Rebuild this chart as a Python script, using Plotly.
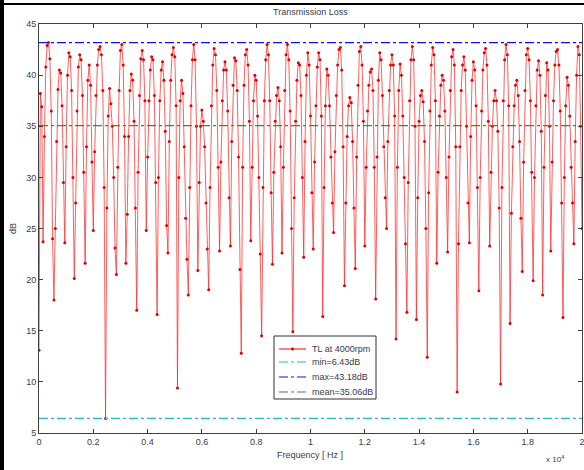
import plotly.graph_objects as go

# ---- data ----
freq_step_hz = 50
tl_db = [
    13.1, 38.2, 36.9, 23.7, 34.0, 40.8, 42.9, 43.18, 41.6, 36.5,
    24.0, 18.0, 25.0, 33.5, 38.6, 40.5, 40.2, 37.0, 29.5, 23.6,
    33.0, 40.0, 42.2, 41.8, 38.5, 30.0, 20.1, 27.5, 36.5, 40.8,
    42.0, 41.5, 38.0, 30.5, 21.6, 33.0, 39.5, 41.0, 39.0, 31.5,
    24.8, 32.5, 38.0, 41.0, 42.5, 42.8, 42.0, 38.5, 29.0, 6.43,
    27.0, 36.0, 38.7, 37.2, 35.0, 30.0, 23.1, 20.5, 31.0, 38.5,
    42.4, 43.0, 41.0, 34.0, 21.6, 26.4, 34.0, 38.5, 40.1, 39.5,
    35.5, 27.0, 17.0, 30.5, 38.0, 41.6, 42.4, 41.5, 37.5, 24.8,
    32.0, 37.5, 40.5, 41.8, 41.5, 38.0, 29.5, 16.6, 30.0, 37.5,
    40.5, 41.3, 39.5, 34.5, 25.3, 22.6, 33.5, 39.5, 42.0, 42.7,
    41.8, 37.0, 9.4, 30.0, 37.5, 39.5, 38.2, 33.0, 26.0, 22.0,
    18.5, 29.0, 37.0, 41.5, 43.0, 41.5, 35.0, 20.9, 29.5, 35.0,
    36.6, 35.5, 33.0, 27.5, 23.0, 19.0, 29.0, 37.0, 41.0, 42.6,
    42.0, 38.5, 31.0, 22.8, 31.5, 37.5, 40.5, 41.3, 40.5, 36.5,
    28.0, 23.3, 33.5, 39.0, 41.7, 41.4, 38.5, 32.0, 21.0, 12.8,
    31.0, 39.0, 42.0, 42.5, 41.0, 35.5, 23.8, 31.0, 37.5, 40.0,
    39.5, 36.0, 30.0, 22.5, 14.5, 29.0, 37.5, 41.5, 43.0, 42.0,
    37.5, 28.5, 21.5, 30.5, 35.5, 38.0, 38.8, 37.5, 33.0, 22.6,
    31.0, 38.5, 42.0, 43.0, 41.5, 36.5, 25.0, 14.9, 28.0, 35.5,
    39.5, 41.2, 41.0, 38.0, 30.0, 22.2, 33.5, 40.0, 42.2, 41.0,
    36.0, 28.5, 23.0, 31.5, 37.0, 40.8, 42.2, 41.5, 36.0, 16.4,
    29.0, 37.0, 40.6, 40.0, 37.0, 32.0, 27.5, 24.6, 32.5, 38.0,
    41.0, 42.5, 42.7, 40.5, 33.0, 19.4, 27.5, 34.0, 37.0, 37.8,
    37.3, 33.5, 27.0, 21.1, 32.0, 39.0, 42.3, 42.8, 41.0, 35.5,
    23.3, 31.0, 36.5, 39.0, 40.3, 40.6, 38.5, 31.0, 18.1, 32.0,
    39.5, 42.2, 41.5, 38.0, 33.0, 28.0, 25.0, 33.5, 38.5, 41.0,
    42.0, 41.0, 36.0, 14.2, 31.0, 38.5, 41.1, 40.0, 36.0, 30.0,
    23.5, 16.8, 29.5, 37.5, 41.5, 42.8, 41.5, 35.0, 16.1, 28.0,
    35.5, 38.0, 38.5, 37.4, 33.5, 25.0, 12.4, 28.5, 36.5, 41.0,
    42.7, 42.0, 37.5, 21.6, 30.5, 36.0, 39.0, 40.0, 39.5, 36.5,
    30.0, 22.7, 32.0, 38.5, 41.8, 42.5, 41.0, 33.0, 9.0, 23.5,
    33.0, 38.5, 41.0, 41.8, 40.5, 35.0, 27.5, 23.6, 34.0, 39.5,
    41.3, 40.5, 37.0, 29.0, 18.9, 30.0, 36.5, 40.5, 42.2, 42.6,
    41.0, 35.5, 23.3, 30.5, 35.0, 37.5, 38.5, 37.5, 34.5, 27.0,
    9.8, 29.0, 37.5, 41.5, 43.0, 42.0, 37.0, 15.7, 26.5, 33.0,
    37.0, 39.0, 39.5, 38.0, 33.5, 26.0, 20.8, 31.5, 38.5, 42.0,
    42.6, 41.5, 37.5, 30.5, 19.9, 30.0, 37.0, 40.5, 41.4, 40.0,
    34.5, 18.5, 31.0, 38.0, 41.2, 40.5, 35.0, 22.8, 31.5, 37.5,
    41.0, 42.3, 42.5, 41.0, 36.5, 27.5, 16.3, 30.0, 37.0, 39.8,
    39.0, 36.0, 31.0, 27.5, 23.5, 33.5, 40.0, 42.8, 42.0, 35.0,
    25.0,
]
freq_hz = [i * freq_step_hz for i in range(len(tl_db))]

min_db = 6.43
max_db = 43.18
mean_db = 35.06
freq_span = [0, 20000]

x_tick_vals = [0, 2000, 4000, 6000, 8000, 10000, 12000, 14000, 16000, 18000, 20000]
x_tick_text = ["0", "0.2", "0.4", "0.6", "0.8", "1", "1.2", "1.4", "1.6", "1.8", "2"]
y_tick_vals = [5, 10, 15, 20, 25, 30, 35, 40, 45]

series_names = ["TL at 4000rpm", "min=6.43dB", "max=43.18dB", "mean=35.06dB"]
series_colors = ["#ff2828", "#20c0c0", "#1010e0", "#3a8a2a"]

# ---- layout geometry (pixels) ----
W, H = 584, 470
L, R, T, B = 39, 2, 24, 37
pw, ph = W - L - R, H - T - B


def px(xp):
    return (xp - L) / pw


def py(yp):
    return (H - B - yp) / ph


FONT = "Liberation Sans, Arial, sans-serif"
TXT = "#3a3a48"

fig = go.Figure()
fig.add_trace(go.Scatter(
    x=freq_hz, y=tl_db, mode="lines+markers", name=series_names[0],
    line=dict(color="rgba(255,40,40,0.75)", width=1),
    marker=dict(color="#e00000", size=3), showlegend=False,
))
for name, col, val in zip(series_names[1:], series_colors[1:], [min_db, max_db, mean_db]):
    fig.add_trace(go.Scatter(
        x=freq_span, y=[val, val], mode="lines", name=name, showlegend=False,
        line=dict(color=col, width=1.3, dash="dashdot"),
    ))

axis_common = dict(
    showline=True, linecolor="#404040", linewidth=1, mirror="ticks",
    ticks="inside", ticklen=4, tickcolor="#404040", showgrid=False, zeroline=False,
    tickfont=dict(family=FONT, size=9, color=TXT), ticklabeloverflow="allow",
)
fig.update_xaxes(range=[0, 20000], tickvals=x_tick_vals, ticktext=x_tick_text, **axis_common)
fig.update_yaxes(range=[5, 45], tickvals=y_tick_vals, **axis_common)

# ---- manual legend (MATLAB-style compact box) ----
leg_x0, leg_x1, leg_y0, leg_y1 = 274, 376, 336, 399
row_y = [349, 362, 377, 392]
shapes = [
    dict(type="rect", xref="paper", yref="paper", x0=px(leg_x0), x1=px(leg_x1),
         y0=py(leg_y1), y1=py(leg_y0), line=dict(color="#303030", width=1),
         fillcolor="white", layer="above"),
]
annotations = []
for i, (name, col) in enumerate(zip(series_names, series_colors)):
    yy = py(row_y[i])
    shapes.append(dict(type="line", xref="paper", yref="paper", x0=px(279), x1=px(306),
                       y0=yy, y1=yy, layer="above",
                       line=dict(color=col, width=1.2, dash="solid" if i == 0 else "dashdot")))
    annotations.append(dict(text=name, x=px(310), y=yy, xref="paper", yref="paper",
                            xanchor="left", yanchor="middle", showarrow=False,
                            font=dict(family=FONT, size=9, color=TXT)))
shapes.append(dict(type="circle", xref="paper", yref="paper", x0=px(291), x1=px(294),
                   y0=py(row_y[0] + 1.5), y1=py(row_y[0] - 1.5), layer="above",
                   fillcolor="#e00000", line=dict(color="#e00000", width=0)))

# outer frame of the screenshot
shapes += [
    dict(type="line", xref="paper", yref="paper", x0=px(2), x1=px(2), y0=py(0), y1=py(H),
         line=dict(color="black", width=4), layer="above"),
    dict(type="line", xref="paper", yref="paper", x0=px(0), x1=px(W), y0=py(4), y1=py(4),
         line=dict(color="black", width=2), layer="above"),
]

annotations += [
    dict(text="Transmission Loss", x=0.5, y=py(12), xref="paper", yref="paper",
         showarrow=False, font=dict(family=FONT, size=9, color=TXT), yanchor="middle"),
    dict(text="Frequency [ Hz ]", x=px(310), y=py(455), xref="paper", yref="paper",
         showarrow=False, font=dict(family=FONT, size=9, color=TXT), yanchor="middle"),
    dict(text="x 10<sup>4</sup>", x=px(566), y=py(459), xref="paper", yref="paper",
         showarrow=False, font=dict(family=FONT, size=8, color=TXT), yanchor="middle"),
    dict(text="dB", x=px(13), y=py(229), xref="paper", yref="paper", textangle=-90,
         xanchor="center", showarrow=False, font=dict(family=FONT, size=9, color=TXT),
         yanchor="middle"),
]

fig.update_layout(
    width=W, height=H,
    margin=dict(l=L, r=R, t=T, b=B, autoexpand=False),
    paper_bgcolor="white", plot_bgcolor="white",
    showlegend=False,
    hovermode=False,
    shapes=shapes,
    annotations=annotations,
)

fig.write_html(
    "out.html",
    config={"displayModeBar": False, "staticPlot": True},
    post_script="document.body.style.margin='0';document.body.style.overflow='hidden';",
)
